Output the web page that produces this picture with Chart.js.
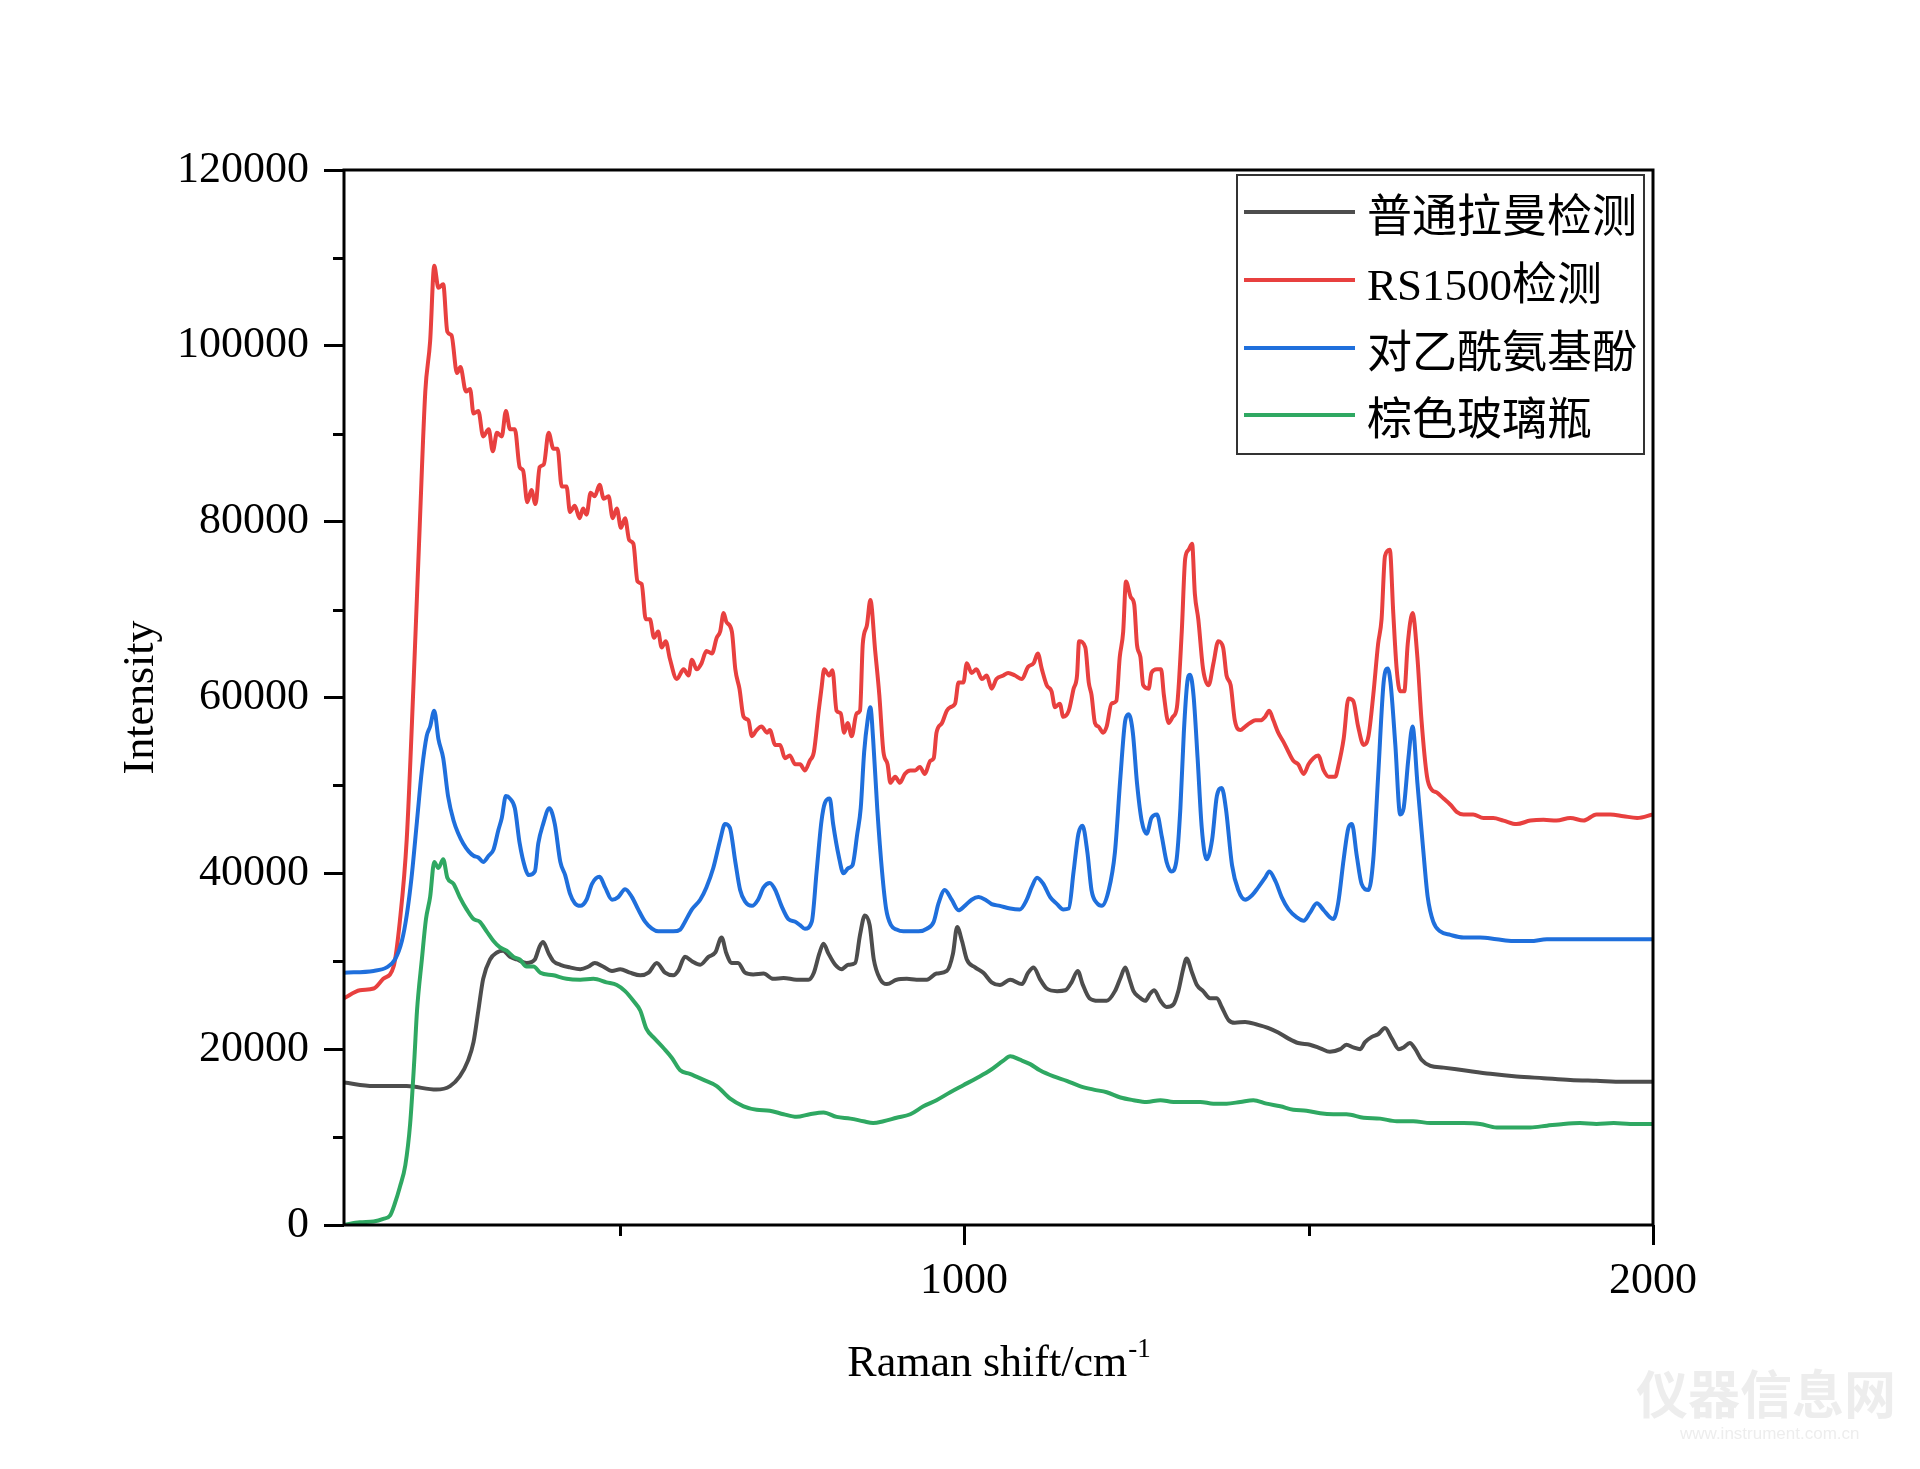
<!DOCTYPE html>
<html>
<head>
<meta charset="utf-8">
<title>Raman spectra</title>
<script src="https://cdn.jsdelivr.net/npm/chart.js@4.4.1/dist/chart.umd.min.js"></script>
<style>
  html, body { margin: 0; padding: 0; background: #fff; }
  canvas { display: block; }
</style>
</head>
<body>
<canvas id="ramanChart" width="1920" height="1469"></canvas>
<script>
const SERIF = '"Liberation Serif", "Times New Roman", "Noto Sans CJK SC", serif';

const seriesLabels = ['普通拉曼检测', 'RS1500检测', '对乙酰氨基酚', '棕色玻璃瓶'];
const seriesColors = ['#4d4d4d', '#e8403f', '#1f6fdc', '#2fa862'];

const xMajorTicks = [1000, 2000];
const xMinorTicks = [500, 1500];
const yMajorTicks = [0, 20000, 40000, 60000, 80000, 100000, 120000];
const yMinorTicks = [10000, 30000, 50000, 70000, 90000, 110000];

// 普通拉曼检测 (grey)
const normalShift = [100,143,191,234,254,268,280,288,295,302,312,322,331,341,351,365,377,384,389,397,404,414,428,443,455,464,476,489,501,515,530,542,554,566,578,585,595,605,617,629,639,648,655,663,672,682,694,709,723,738,757,774,782,790,796,803,813,822,832,842,849,856,863,869,878,888,902,917,931,946,960,975,984,990,997,1004,1016,1028,1040,1052,1067,1084,1093,1101,1110,1120,1135,1147,1156,1165,1172,1182,1195,1207,1219,1227,1234,1240,1246,1253,1263,1270,1276,1285,1294,1304,1311,1318,1323,1331,1338,1347,1357,1367,1374,1384,1393,1408,1425,1442,1456,1471,1485,1502,1517,1531,1546,1555,1565,1575,1582,1592,1601,1611,1621,1631,1638,1647,1655,1664,1677,1696,1725,1764,1802,1841,1880,1918,1957,2000];
const normalIntensity = [16200,15800,15800,15400,15800,16900,18700,20800,24400,28000,30200,31000,31200,30500,30200,29800,30200,31700,32200,30900,30000,29600,29300,29100,29400,29800,29400,28900,29100,28700,28400,28700,29800,28700,28400,28900,30500,30000,29600,30500,31000,32700,30900,29800,29800,28700,28500,28600,28000,28100,27900,27900,28700,30900,32000,30900,29600,29100,29600,29800,33000,35200,34100,30200,28000,27400,27900,28000,27900,27900,28600,28900,30900,33900,32300,30200,29300,28700,27600,27300,27900,27400,28700,29300,28000,26900,26600,26700,27600,28900,27400,25800,25500,25500,26600,28100,29300,28000,26600,26000,25500,26300,26700,25500,24800,25100,26600,29100,30300,28700,27300,26600,25800,25800,24800,23300,23000,23100,22800,22400,21900,21200,20700,20500,20100,19700,20000,20500,20200,20000,20800,21400,21700,22400,21200,20000,20200,20700,20000,18800,18100,17900,17600,17200,16900,16700,16500,16400,16300,16300];

// RS1500检测 (red)
const rsShift = [100,123,143,157,172,181,191,201,210,218,225,231,237,244,250,256,264,269,277,283,288,295,302,310,316,322,329,335,341,348,355,360,366,372,378,384,390,397,404,410,416,423,428,435,442,447,452,458,464,471,477,484,490,496,502,508,514,520,526,532,538,544,550,556,561,567,573,583,593,600,605,612,619,626,634,641,646,651,655,663,668,674,680,687,692,699,706,714,718,726,733,740,747,755,762,769,776,782,789,793,797,804,809,815,821,826,831,837,844,849,853,859,864,871,877,883,889,893,900,907,914,922,929,936,943,951,956,960,968,975,980,987,992,999,1004,1011,1018,1026,1033,1040,1047,1057,1064,1074,1084,1093,1101,1107,1113,1120,1127,1132,1139,1144,1152,1159,1164,1167,1176,1181,1185,1190,1195,1202,1207,1214,1221,1226,1231,1235,1242,1247,1251,1256,1260,1268,1272,1280,1286,1290,1297,1303,1309,1316,1321,1326,1331,1335,1340,1347,1355,1362,1369,1376,1381,1387,1393,1401,1408,1415,1423,1430,1437,1443,1449,1456,1464,1471,1478,1485,1493,1500,1507,1514,1522,1529,1539,1543,1551,1558,1565,1572,1580,1587,1594,1601,1606,1611,1618,1623,1628,1633,1639,1644,1651,1658,1664,1672,1679,1686,1696,1706,1715,1725,1739,1754,1768,1783,1802,1822,1841,1860,1880,1899,1918,1938,1957,1977,2000];
const rsIntensity = [25800,26700,26900,28000,29400,34500,43800,61700,79700,94800,100500,109100,106600,107000,101600,101200,96900,97600,94800,95100,92300,92600,89700,90500,88000,90100,89700,92600,90500,90500,86200,85800,82200,83600,82000,86200,86500,90100,88300,88300,84000,84000,81100,81800,80400,81500,80800,83300,82900,84200,82600,82900,80400,81500,79300,80400,77900,77500,73200,72900,68900,68900,66800,67500,65700,66400,64400,62100,63200,62500,64300,63200,63900,65300,65000,66800,67500,69600,68600,67500,63200,61000,57800,57400,55600,56300,56700,56000,56300,54600,54600,53100,53400,52400,52400,51700,52800,53800,58500,61000,63200,62500,63100,58500,58200,56000,57100,55600,58200,58500,66100,68200,71100,65300,60300,53800,52400,50300,51000,50300,51300,51700,51700,52100,51300,52800,53100,56000,57100,58500,58900,59300,61700,61700,63900,62800,63200,62100,62500,61000,62100,62500,62800,62500,62100,63500,63900,65000,63200,61400,60700,58900,59300,57800,58500,61000,62500,66400,65700,61700,60300,57100,56700,56000,56700,59300,59600,64600,67500,73200,71400,70600,66000,64600,61400,61000,62800,63200,63200,60300,57100,57800,58900,67500,75800,76800,77500,71800,68900,63200,61400,63900,66400,65700,62500,61400,57400,56300,56700,57100,57400,57400,57800,58500,57400,56000,54900,53800,52800,52400,51300,52400,53100,53400,51700,51000,51000,52100,55300,59900,59600,56700,54600,55600,60300,66100,68900,76100,76800,69600,63200,60700,60700,66100,69600,64600,57400,51000,49500,49200,48500,47800,47000,46700,46700,46300,46300,46000,45600,46000,46100,46000,46300,46000,46700,46700,46500,46300,46700];

// 对乙酰氨基酚 (blue)
const apapShift = [100,143,162,174,184,191,198,206,213,220,225,231,237,244,251,259,266,273,281,288,295,302,310,317,324,329,335,341,348,355,363,368,377,382,389,398,406,414,421,428,435,443,452,460,471,479,489,498,508,518,527,537,547,556,566,578,588,595,605,617,626,636,646,653,660,668,675,682,692,701,709,718,726,735,745,755,762,769,779,786,793,798,805,810,818,825,832,838,845,850,855,860,864,868,874,881,887,894,902,912,922,934,946,956,963,972,982,992,1001,1011,1021,1031,1040,1052,1067,1081,1091,1098,1106,1115,1125,1135,1144,1152,1159,1166,1172,1179,1185,1193,1200,1210,1219,1227,1234,1239,1245,1251,1258,1265,1272,1280,1287,1294,1301,1308,1314,1319,1324,1328,1333,1339,1345,1352,1360,1367,1374,1380,1389,1398,1408,1418,1427,1437,1443,1452,1461,1471,1483,1493,1502,1512,1522,1531,1536,1543,1551,1558,1563,1570,1577,1587,1594,1601,1609,1615,1619,1626,1633,1638,1645,1651,1658,1666,1673,1681,1691,1706,1725,1749,1773,1797,1822,1846,1870,1894,1918,1943,1967,2000];
const apapIntensity = [28700,28900,29300,30200,32300,35200,39500,46000,51700,55600,56700,58500,55300,53100,48800,46000,44500,43400,42500,42000,41800,41300,42000,42700,44900,46300,48800,48500,47400,43400,40600,39800,40200,43400,45600,47400,45600,41300,39800,37700,36600,36300,37000,38800,39600,38400,37000,37300,38200,37300,35900,34500,33700,33400,33400,33400,33600,34500,35900,37000,38400,40600,43800,45600,45200,41300,38100,36800,36300,37000,38400,38900,38100,36300,34800,34500,34100,33700,34500,40200,45900,48000,48500,45600,42000,40000,40600,40900,44500,47400,53800,57400,58900,55300,47400,40200,35900,34100,33600,33400,33400,33400,33700,34500,36600,38100,37000,35800,36300,37000,37300,37000,36500,36300,36000,35900,37000,38400,39500,38800,37300,36500,35900,36000,40200,44500,45400,42400,38100,36600,36300,38100,42400,51000,57400,58100,56000,50300,45900,44500,46300,46700,44200,41300,40200,41300,47400,56000,61700,62600,60300,53100,45200,41600,43800,48800,49700,47400,40900,38100,37000,37500,38400,39500,40200,39100,37300,35900,35000,34600,35500,36600,35800,35000,34800,36600,41600,45200,45600,42000,38800,38100,41600,51000,61700,63300,61700,54600,46700,47400,53100,56700,50300,43100,37300,34500,33400,33000,32700,32700,32500,32300,32300,32500,32500,32500,32500,32500,32500,32500];

// 棕色玻璃瓶 (green)
const glassShift = [100,123,143,157,167,174,181,189,196,202,206,213,219,225,231,237,244,250,259,268,278,288,297,307,317,326,336,346,355,365,375,385,404,423,443,462,481,496,508,520,530,539,551,564,576,588,602,622,641,660,680,699,718,738,757,776,796,815,835,854,868,883,902,922,941,960,980,999,1018,1038,1057,1067,1081,1096,1110,1130,1149,1168,1188,1207,1227,1246,1265,1285,1304,1323,1343,1362,1381,1401,1420,1439,1459,1478,1497,1517,1536,1555,1580,1604,1628,1652,1677,1701,1725,1749,1773,1797,1822,1846,1870,1894,1918,1943,1967,2000];
const glassIntensity = [0,300,400,700,1100,2500,4300,6800,11500,18700,24400,30200,34800,37300,41300,40600,41600,39500,38800,37300,35900,34800,34500,33400,32300,31600,31200,30500,30200,29400,29400,28700,28400,28000,27900,28000,27600,27300,26600,25500,24400,22300,21200,20100,19000,17600,17200,16500,15800,14400,13500,13100,13000,12600,12300,12600,12800,12300,12100,11800,11600,11800,12200,12600,13500,14200,15100,15900,16700,17600,18700,19200,18800,18300,17600,16900,16400,15800,15400,15100,14500,14200,14000,14200,14000,14000,14000,13800,13800,14000,14200,13800,13500,13100,13000,12700,12600,12600,12200,12100,11800,11800,11600,11600,11600,11500,11100,11100,11100,11300,11500,11600,11500,11600,11500,11500];

function toPoints(xs, ys) {
  return xs.map((x, i) => ({ x: x, y: ys[i] }));
}

const seriesData = [
  toPoints(normalShift, normalIntensity),
  toPoints(rsShift, rsIntensity),
  toPoints(apapShift, apapIntensity),
  toPoints(glassShift, glassIntensity)
];

// frame, minor ticks, x title with superscript, legend box, watermark
const decorPlugin = {
  id: 'decor',
  afterDraw(chart) {
    const { ctx, chartArea: a, scales } = chart;
    const xs = scales.x, ys = scales.y;
    ctx.save();

    // watermark (faint)
    ctx.fillStyle = 'rgba(190,190,190,0.28)';
    ctx.font = 'bold 52px "Noto Sans CJK SC", sans-serif';
    ctx.textAlign = 'left';
    ctx.textBaseline = 'middle';
    ctx.fillText('仪器信息网', 1636, 1394);
    ctx.font = '17px "Liberation Sans", sans-serif';
    ctx.fillText('www.instrument.com.cn', 1680, 1434);

    // plot frame
    ctx.strokeStyle = '#000';
    ctx.lineWidth = 3;
    ctx.strokeRect(a.left, a.top, a.right - a.left, a.bottom - a.top);

    // minor ticks
    ctx.beginPath();
    xMinorTicks.forEach(v => {
      const px = Math.round(xs.getPixelForValue(v)) + 0.5;
      ctx.moveTo(px, a.bottom);
      ctx.lineTo(px, a.bottom + 11);
    });
    yMinorTicks.forEach(v => {
      const py = Math.round(ys.getPixelForValue(v)) + 0.5;
      ctx.moveTo(a.left - 11, py);
      ctx.lineTo(a.left, py);
    });
    ctx.stroke();

    // x axis title with superscript
    const mainText = 'Raman shift/cm';
    const supText = '-1';
    ctx.fillStyle = '#000';
    ctx.font = '44px ' + SERIF;
    const w1 = ctx.measureText(mainText).width;
    ctx.font = '27px ' + SERIF;
    const w2 = ctx.measureText(supText).width;
    const startX = (a.left + a.right) / 2 - (w1 + w2) / 2;
    ctx.textBaseline = 'alphabetic';
    ctx.textAlign = 'left';
    ctx.font = '44px ' + SERIF;
    ctx.fillText(mainText, startX, 1376);
    ctx.font = '27px ' + SERIF;
    ctx.fillText(supText, startX + w1 + 1, 1357);

    // legend box
    const box = { left: 1237, top: 175, right: 1644, bottom: 454 };
    ctx.fillStyle = '#fff';
    ctx.fillRect(box.left, box.top, box.right - box.left, box.bottom - box.top);
    ctx.strokeStyle = '#333';
    ctx.lineWidth = 2;
    ctx.strokeRect(box.left, box.top, box.right - box.left, box.bottom - box.top);
    const rowY = [212, 280, 348, 415];
    ctx.font = '45px ' + SERIF;
    ctx.textBaseline = 'middle';
    chart.data.datasets.forEach((ds, i) => {
      ctx.strokeStyle = ds.borderColor;
      ctx.lineWidth = 4;
      ctx.beginPath();
      ctx.moveTo(1244, rowY[i]);
      ctx.lineTo(1355, rowY[i]);
      ctx.stroke();
      ctx.fillStyle = '#000';
      ctx.fillText(ds.label, 1367, rowY[i] + 8);
    });

    ctx.restore();
  }
};

const datasets = seriesLabels.map((label, i) => ({
  label: label,
  data: seriesData[i],
  borderColor: seriesColors[i],
  backgroundColor: seriesColors[i],
  borderWidth: 4,
  pointRadius: 0,
  tension: 0,
  cubicInterpolationMode: 'monotone',
  order: 4 - i
}));

new Chart(document.getElementById('ramanChart'), {
  type: 'line',
  data: { datasets },
  options: {
    responsive: false,
    animation: false,
    devicePixelRatio: 1,
    parsing: true,
    layout: { padding: { left: 0, top: 170, right: 267, bottom: 0 } },
    plugins: {
      legend: { display: false },
      tooltip: { enabled: false }
    },
    scales: {
      x: {
        type: 'linear',
        min: 100,
        max: 2000,
        afterBuildTicks(scale) {
          scale.ticks = xMajorTicks.map(v => ({ value: v }));
        },
        afterFit(scale) { scale.height = 244; },
        border: { display: false },
        grid: {
          drawOnChartArea: false,
          drawTicks: true,
          tickLength: 20,
          tickWidth: 3,
          tickColor: '#000'
        },
        ticks: {
          color: '#000',
          padding: 10,
          maxRotation: 0,
          font: { family: SERIF, size: 44 },
          callback: v => String(v)
        }
      },
      y: {
        type: 'linear',
        min: 0,
        max: 120000,
        afterBuildTicks(scale) {
          scale.ticks = yMajorTicks.map(v => ({ value: v }));
        },
        afterFit(scale) { scale.width = 344; },
        border: { display: false },
        grid: {
          drawOnChartArea: false,
          drawTicks: true,
          tickLength: 20,
          tickWidth: 3,
          tickColor: '#000'
        },
        ticks: {
          color: '#000',
          padding: 15,
          font: { family: SERIF, size: 44 },
          callback: v => String(v)
        },
        title: {
          display: true,
          text: 'Intensity',
          color: '#000',
          font: { family: SERIF, size: 44 },
          padding: { top: 115, bottom: 0 }
        }
      }
    }
  },
  plugins: [decorPlugin]
});
</script>
</body>
</html>
